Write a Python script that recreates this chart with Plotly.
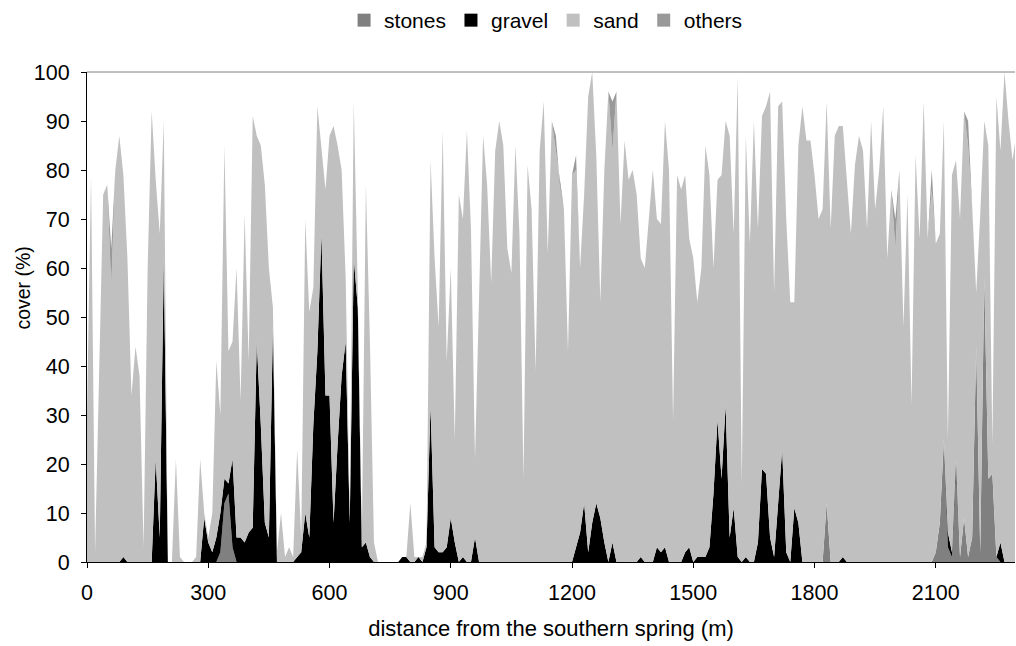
import plotly.graph_objects as go

# distance (m), 10 m steps
distance = list(range(0, 2301, 10))

stones = [
    0,0,0,0,0,0,0,0,0,0,
    0,0,0,0,0,0,0,0,0,0,
    0,0,0,0,0,0,0,0,0,0,
    0,0,0,2,12,14,3,0,0,0,
    0,0,0,0,0,0,0,0,0,0,
    0,0,0,0,0,0,0,0,0,0,
    0,0,0,0,0,0,0,0,0,0,
    0,0,0,0,0,0,0,0,0,0,
    0,0,0,0,0,0,0,0,0,0,
    0,0,0,0,0,0,0,0,0,0,
    0,0,0,0,0,0,0,0,0,0,
    0,0,0,0,0,0,0,0,0,0,
    0,0,0,0,0,0,0,0,0,0,
    0,0,0,0,0,0,0,0,0,0,
    0,0,0,0,0,0,0,0,0,0,
    0,0,0,0,0,0,0,0,0,0,
    0,0,0,0,0,0,0,0,0,0,
    0,0,0,0,0,0,0,0,0,0,
    0,0,0,12,0,0,0,0,0,0,
    0,0,0,0,0,0,0,0,0,0,
    0,0,0,0,0,0,0,0,0,0,
    2,8,25,3,1,19,1,9,1,5,
    44,2,58,17,18,1,0,0,0,0,
    0,
]

gravel = [
    0,0,0,0,0,0,0,0,0,1,
    0,0,0,0,0,0,0,21,5,62,
    0,0,0,0,0,0,0,0,0,9,
    4,2,5,8,5,2,18,5,5,4,
    6,7,45,28,8,5,48,0,0,0,
    0,0,1,2,10,5,28,43,67,34,
    34,8,24,38,45,8,62,52,3,4,
    1,0,0,0,0,0,0,0,1,1,
    0,0,1,0,3,32,3,2,2,3,
    9,4,0,1,0,0,5,0,0,0,
    0,0,0,0,0,0,0,0,0,0,
    0,0,0,0,0,0,0,0,0,0,
    0,3,6,12,2,8,12,9,4,0,
    4,0,0,0,0,0,0,1,0,0,
    0,3,2,3,0,0,0,0,2,3,
    0,1,1,1,3,14,29,17,32,5,
    11,1,0,1,0,0,4,19,18,5,
    1,12,23,2,0,11,8,0,0,0,
    0,0,0,0,0,0,0,1,0,0,
    0,0,0,0,0,0,0,0,0,0,
    0,0,0,0,0,0,0,0,0,0,
    0,0,0,3,1,2,0,0,0,0,
    0,0,0,0,0,0,4,0,0,0,
    0,
]

sand = [
    30,79,2,40,75,77,56,80,87,78,
    62,34,44,38,3,60,92,57,62,28,
    0,0,21,1,0,0,0,1,21,1,
    1,8,36,20,68,27,24,55,28,67,
    35,84,42,57,69,55,4,2,10,1,
    3,1,22,3,60,46,28,50,18,42,
    53,81,61,42,13,2,32,3,2,73,
    44,4,0,0,0,0,0,0,0,0,
    12,1,0,1,1,50,59,46,86,38,
    51,21,75,69,88,68,16,55,87,77,
    57,84,90,85,64,59,85,67,17,81,
    72,39,84,94,63,90,84,77,72,43,
    79,77,54,63,93,92,71,44,76,96,
    80,96,69,86,78,80,75,61,60,70,
    80,67,67,87,80,29,79,76,77,63,
    62,52,59,84,76,46,49,62,58,82,
    56,98,16,86,65,90,64,72,75,91,
    54,81,71,68,53,42,77,93,86,86,
    79,70,72,82,68,87,89,88,78,67,
    81,87,84,68,90,72,80,93,62,76,
    64,80,48,75,32,83,66,94,66,76,
    63,59,65,19,77,61,69,83,84,67,
    11,69,32,68,6,94,80,100,90,82,
    88,
]

others = [
    0,0,0,0,0,0,8,0,0,0,
    0,0,0,0,0,0,0,0,0,0,
    0,0,0,0,0,0,0,0,0,0,
    0,0,0,0,0,0,0,0,0,0,
    0,0,0,0,0,0,0,0,0,0,
    0,0,0,0,0,0,0,0,0,0,
    0,0,0,0,0,0,0,0,0,0,
    0,0,0,0,0,0,0,0,0,0,
    0,0,0,0,0,0,0,0,0,0,
    0,0,0,0,0,0,0,0,0,0,
    0,0,0,0,0,0,0,0,0,0,
    0,0,0,0,0,0,3,0,0,0,
    0,3,0,0,0,0,0,0,0,0,
    10,0,0,0,0,0,0,0,0,0,
    0,0,0,0,0,0,0,0,0,0,
    0,0,0,0,0,0,0,0,0,0,
    0,0,0,0,0,0,0,0,0,0,
    0,0,0,0,0,0,0,0,0,0,
    0,0,0,0,0,0,0,0,0,0,
    0,0,0,0,0,0,0,0,0,0,
    6,0,0,0,0,0,0,0,0,4,
    0,0,0,0,0,0,0,0,5,0,
    0,0,0,0,0,0,0,0,0,0,
    0,
]

x_ticks = [0, 300, 600, 900, 1200, 1500, 1800, 2100]
y_ticks = list(range(0, 101, 10))

series = [
    ("stones", stones, "#808080"),
    ("gravel", gravel, "#000000"),
    ("sand", sand, "#C0C0C0"),
    ("others", others, "#999999"),
]

FONT = "Liberation Sans, Arial, sans-serif"

fig = go.Figure()
for name, vals, col in series:
    fig.add_trace(go.Scatter(
        x=distance, y=vals, name=name, mode="lines",
        stackgroup="one", line=dict(width=0, color=col),
        fillcolor=col, showlegend=False,
    ))
# legend entries with square keys
for name, vals, col in series:
    fig.add_trace(go.Scatter(
        x=[None], y=[None], name=name, mode="markers",
        marker=dict(symbol="square", size=13, color=col),
        showlegend=True,
    ))

fig.update_layout(
    width=1016, height=646,
    margin=dict(l=87, r=1, t=72, b=84),
    paper_bgcolor="white", plot_bgcolor="white",
    font=dict(family=FONT, size=21, color="black"),
    showlegend=True,
    legend=dict(orientation="h", x=0.537, xanchor="center", xref="container",
                yref="container", y=1.0, yanchor="top",
                font=dict(size=21), itemwidth=30, traceorder="normal",
                bgcolor="rgba(0,0,0,0)", tracegroupgap=0),
    xaxis=dict(range=[0, 2296], tickvals=x_ticks, ticks="outside", ticklen=5,
               tickcolor="black", showline=True, linecolor="black", linewidth=1,
               showgrid=False, zeroline=False, automargin=False,
               ticklabelstandoff=6,
               title=dict(text="distance from the southern spring (m)", standoff=16,
                          font=dict(size=22)),
               tickfont=dict(size=21.5)),
    yaxis=dict(range=[0, 100], tickvals=y_ticks, ticks="outside", ticklen=5,
               tickcolor="black", showline=True, linecolor="black", linewidth=1,
               showgrid=False, zeroline=False, automargin=False,
               ticklabelstandoff=7,
               tickfont=dict(size=21.5)),
    annotations=[dict(text="cover (%)", textangle=-90, showarrow=False,
                      xref="paper", yref="paper", x=-0.069, y=0.56,
                      xanchor="center", yanchor="middle",
                      font=dict(size=19.5, family=FONT, color="black"))],
    shapes=[dict(type="line", xref="paper", yref="paper", x0=0, x1=1, y0=1, y1=1,
                 line=dict(color="#808080", width=1))],
)

fig.write_html("out.html", config={"displayModeBar": False},
               post_script="document.body.style.margin='0px';")
